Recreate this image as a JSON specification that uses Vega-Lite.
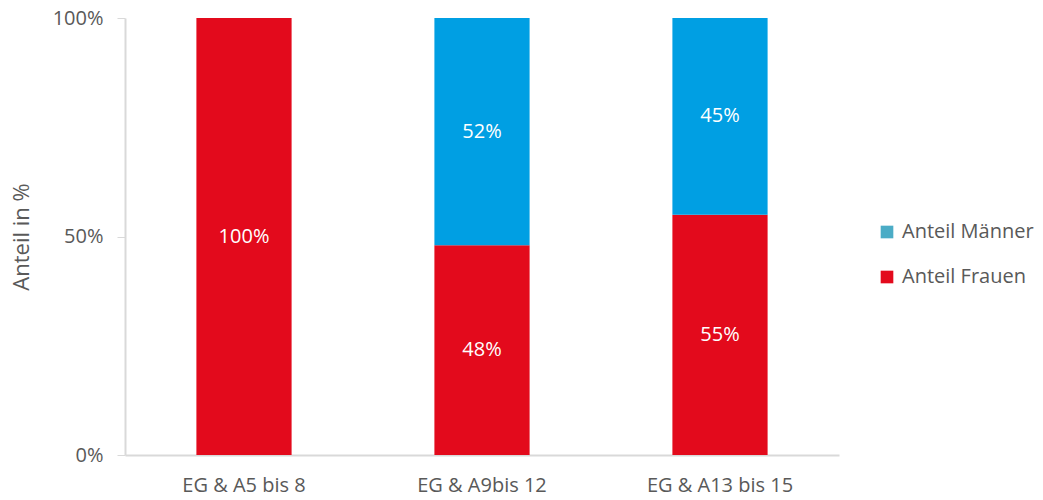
{
  "$schema": "https://vega.github.io/schema/vega-lite/v6.json",
  "width": 714,
  "height": 437,
  "autosize": {"type": "none"},
  "padding": {"left": 125, "top": 18, "right": 204, "bottom": 45},
  "background": "white",
  "config": {
    "view": {"stroke": null},
    "font": "Open Sans",
    "axis": {"labelFont": "Open Sans", "titleFont": "Open Sans", "labelColor": "#595959", "titleColor": "#595959", "domainColor": "#d9d9d9", "tickColor": "#d9d9d9", "grid": false}
  },
  "data": {
    "values": [
      {"gruppe": "EG & A5 bis 8", "serie": "Anteil Frauen", "wert": 1.00},
      {"gruppe": "EG & A5 bis 8", "serie": "Anteil Männer", "wert": 0.00},
      {"gruppe": "EG & A9bis 12", "serie": "Anteil Frauen", "wert": 0.48},
      {"gruppe": "EG & A9bis 12", "serie": "Anteil Männer", "wert": 0.52},
      {"gruppe": "EG & A13 bis 15", "serie": "Anteil Frauen", "wert": 0.55},
      {"gruppe": "EG & A13 bis 15", "serie": "Anteil Männer", "wert": 0.45}
    ]
  },
  "transform": [
    {"stack": "wert", "groupby": ["gruppe"], "sort": [{"field": "serie", "order": "ascending"}], "as": ["y0", "y1"]},
    {"calculate": "(datum.y0 + datum.y1) / 2", "as": "ymid"}
  ],
  "encoding": {
    "x": {
      "field": "gruppe", "type": "nominal", "sort": null,
      "scale": {"paddingInner": 0.6, "paddingOuter": 0.3},
      "axis": {"title": null, "labelAngle": 0, "labelFontSize": 20, "ticks": false, "labelPadding": 20, "domainWidth": 2}
    }
  },
  "resolve": {"scale": {"fill": "independent"}, "legend": {"fill": "independent"}},
  "layer": [
    {
      "mark": {"type": "bar"},
      "encoding": {
        "y": {"field": "y0", "type": "quantitative", "scale": {"domain": [0, 1], "nice": false},
          "axis": {"title": "Anteil in %", "titleFontSize": 22, "titleFontWeight": "normal", "titlePadding": 19, "format": "%", "values": [0, 0.5, 1], "labelFontSize": 20, "labelPadding": 14, "tickSize": 8, "domainWidth": 2}},
        "y2": {"field": "y1"},
        "fill": {
          "field": "serie", "type": "nominal",
          "scale": {"domain": ["Anteil Männer", "Anteil Frauen"], "range": ["#009FE3", "#E30A1C"]},
          "legend": null
        }
      }
    },
    {
      "mark": {"type": "bar"},
      "encoding": {
        "y": {"datum": 0, "type": "quantitative"},
        "y2": {"datum": 0},
        "fill": {
          "field": "serie", "type": "nominal",
          "scale": {"domain": ["Anteil Männer", "Anteil Frauen"], "range": ["#4BACC6", "#E30A1C"]},
          "legend": {
            "title": null, "orient": "none", "legendX": 752, "legendY": 204,
            "symbolType": "square", "symbolSize": 160, "labelFontSize": 20, "labelColor": "#595959",
            "labelFont": "Open Sans", "rowPadding": 25, "labelOffset": 5
          }
        }
      }
    },
    {
      "transform": [{"filter": "datum.wert > 0"}],
      "mark": {"type": "text", "color": "white", "fontSize": 20, "baseline": "middle", "align": "center"},
      "encoding": {
        "y": {"field": "ymid", "type": "quantitative"},
        "text": {"field": "wert", "type": "quantitative", "format": ".0%"}
      }
    }
  ]
}
